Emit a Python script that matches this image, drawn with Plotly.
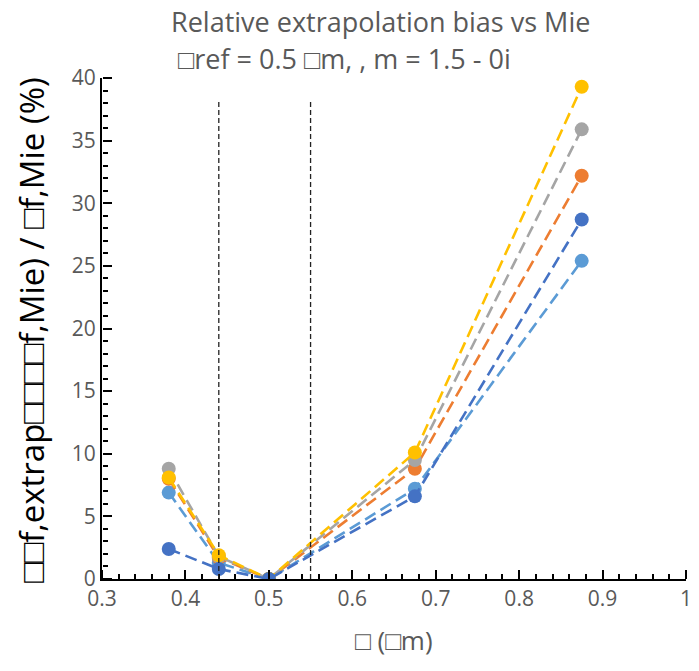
import plotly.graph_objects as go

wavelength = [0.38, 0.44, 0.5, 0.675, 0.875]
series_names = ["s1", "s2", "s3", "s4", "s5"]
series_colors = ["#5B9BD5", "#ED7D31", "#A5A5A5", "#FFC000", "#4472C4"]
bias_s1 = [6.9, 1.3, 0.0, 7.2, 25.4]
bias_s2 = [8.0, 1.7, 0.0, 8.8, 32.2]
bias_s3 = [8.8, 1.8, 0.0, 9.5, 35.9]
bias_s4 = [8.1, 1.9, 0.0, 10.1, 39.3]
bias_s5 = [2.4, 0.8, 0.0, 6.6, 28.7]
all_bias = [bias_s1, bias_s2, bias_s3, bias_s4, bias_s5]
vlines_x = [0.44, 0.55]
vline_top = 38.3

x_range = [0.3, 1.0]
y_range = [0, 40]

T = "\u25a1"

fig = go.Figure()
for name, col, ys in zip(series_names, series_colors, all_bias):
    fig.add_trace(go.Scatter(
        x=wavelength, y=ys, name=name, mode="lines+markers",
        line=dict(color=col, width=2.6, dash="12px,6px"),
        marker=dict(color=col, size=14),
        showlegend=False,
    ))

# transparent helper trace so the overlay tick axes get drawn
fig.add_trace(go.Scatter(
    x=wavelength, y=bias_s1, xaxis="x2", yaxis="y2", mode="markers",
    marker=dict(opacity=0), hoverinfo="skip", showlegend=False,
))

for vx in vlines_x:
    fig.add_shape(type="line", x0=vx, x1=vx, y0=0, y1=vline_top,
                  xref="x", yref="y", layer="above",
                  line=dict(color="#222222", width=1.3, dash="5px,3px"))

tick_font = dict(size=21, color="#595959", family="Open Sans")

fig.update_layout(
    width=699, height=671,
    margin=dict(l=102, r=7, t=78, b=92),
    plot_bgcolor="white", paper_bgcolor="white",
    font=dict(family="Open Sans", color="#595959"),
    xaxis=dict(
        range=x_range, dtick=0.1, tick0=0.3, tickformat="~g",
        showgrid=False, zeroline=False,
        showline=True, linecolor="black", linewidth=2,
        ticks="", tickfont=tick_font,
    ),
    yaxis=dict(
        range=y_range, dtick=5, tick0=0,
        showgrid=False, zeroline=False,
        showline=True, linecolor="black", linewidth=2,
        ticks="", tickfont=tick_font,
    ),
    # overlay axes used only to draw tick marks pointing into the plot
    xaxis2=dict(
        range=x_range, overlaying="x", side="top", anchor="free", position=0,
        dtick=0.1, tick0=0.3, showticklabels=False,
        showgrid=False, zeroline=False, showline=False,
        ticks="outside", ticklen=9, tickwidth=2, tickcolor="black",
        minor=dict(dtick=0.02, tick0=0.3, ticks="outside", ticklen=5,
                   tickwidth=1.5, tickcolor="black", showgrid=False),
    ),
    yaxis2=dict(
        range=y_range, overlaying="y", side="right", anchor="free", position=0,
        dtick=5, tick0=0, showticklabels=False,
        showgrid=False, zeroline=False, showline=False,
        ticks="outside", ticklen=9, tickwidth=2, tickcolor="black",
        minor=dict(dtick=1, tick0=0, ticks="outside", ticklen=5,
                   tickwidth=1.5, tickcolor="black", showgrid=False),
    ),
)

fig.add_annotation(text="Relative extrapolation bias vs Mie",
                   xref="paper", yref="paper", x=(383 - 102) / 590, y=1 + (78 - 22) / 501,
                   xanchor="center", yanchor="middle", showarrow=False,
                   font=dict(size=27, color="#595959", family="Open Sans"))
fig.add_annotation(text=T + "ref = 0.5 " + T + "m, , m = 1.5 - 0i",
                   xref="paper", yref="paper", x=(347 - 102) / 590, y=1 + (78 - 58) / 501,
                   xanchor="center", yanchor="middle", showarrow=False,
                   font=dict(size=27, color="#595959", family="Open Sans"))
fig.add_annotation(text=T + " (" + T + "m)",
                   xref="paper", yref="paper", x=(397 - 102) / 590, y=-(640 - 579) / 501,
                   xanchor="center", yanchor="middle", showarrow=False,
                   font=dict(size=26, color="#595959", family="Open Sans"))
fig.add_annotation(text=T + T + "f,extrap" + T + T + T + T + "f,Mie) / " + T + "f,Mie (%)",
                   xref="paper", yref="paper", x=-(102 - 30) / 590, y=(579 - 330) / 501,
                   xanchor="center", yanchor="middle", showarrow=False, textangle=-90,
                   font=dict(size=33, color="#000000", family="Open Sans"))

fig.write_html("out.html")
